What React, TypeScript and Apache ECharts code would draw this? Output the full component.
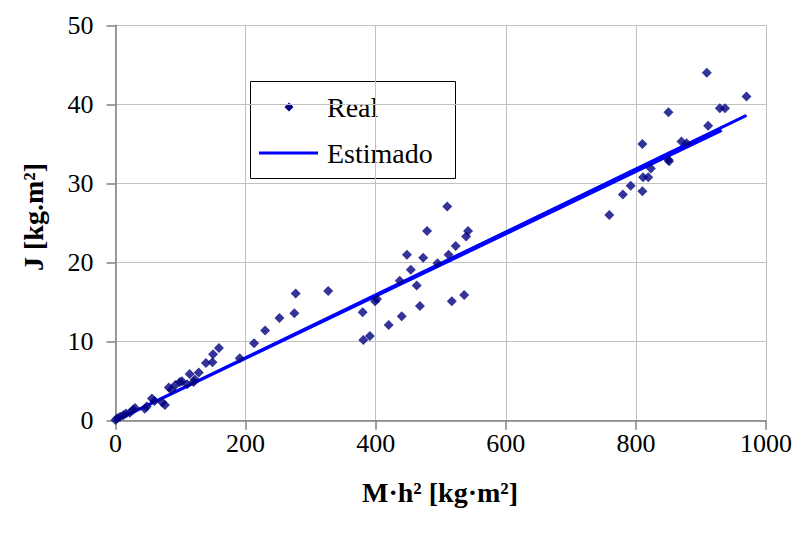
import React, { useEffect, useRef } from "react";
import * as echarts from "echarts";

const realData: [number, number][] = [
  [0, 0.1], [3, 0.3], [7, 0.5], [12, 0.7], [16, 0.9], [22, 1.0], [27, 1.4], [30, 1.6],
  [45, 1.5], [48, 1.8], [56, 2.8], [60, 2.5], [72, 2.3], [76, 2.0], [82, 4.2], [86, 3.9],
  [92, 4.5], [99, 4.9], [102, 5.0], [110, 4.6], [114, 5.9], [120, 4.9], [122, 5.2],
  [128, 6.1], [139, 7.3], [149, 7.4], [150, 8.4], [159, 9.2], [191, 7.9], [213, 9.8],
  [230, 11.4], [252, 13.0], [275, 13.6], [277, 16.1], [327, 16.4],
  [381, 10.2], [391, 10.7], [380, 13.7], [399, 15.1], [402, 15.4], [420, 12.1],
  [437, 17.7], [440, 13.2], [448, 21.0], [454, 19.1], [463, 17.1], [468, 14.5],
  [473, 20.6], [479, 24.0], [495, 19.9], [510, 27.1], [512, 21.0], [517, 15.1],
  [523, 22.1], [536, 15.9], [539, 23.3], [542, 24.0],
  [759, 26.0], [780, 28.6], [792, 29.7], [810, 29.0], [810, 35.0], [811, 30.8],
  [819, 30.8], [823, 31.9], [850, 33.0], [851, 32.8], [850, 39.0], [870, 35.3],
  [878, 35.1], [909, 44.0], [911, 37.3], [929, 39.5], [937, 39.5], [970, 41.0],
];

// two overlapping estimate segments (separated by a gap marker)
const estimatedData: (number | string)[][] = [
  [0, 0.0], [932, 36.7], ["-", "-"], [0, 0.0], [970, 38.6],
];

const xTicks = { min: 0, max: 1000, interval: 200 };
const yTicks = { min: 0, max: 50, interval: 10 };

const legendLabels = ["Real", "Estimado"];
const xTitle = "M·h² [kg·m²]";
const yTitle = "J [kg.m²]";

const FONT = "Liberation Serif";

export default function App() {
  const ref = useRef<HTMLDivElement>(null);
  useEffect(() => {
    if (!ref.current) return;
    const chart = echarts.init(ref.current, undefined, { renderer: "svg" });
    const axisLine = { show: true, lineStyle: { color: "#808080", width: 1.5 } };
    const axisTick = { show: true, inside: false, length: 9, lineStyle: { color: "#808080", width: 1.5 } };
    const splitLine = { show: true, lineStyle: { color: "#c0c0c0", width: 1 } };
    chart.setOption({
      animation: false,
      backgroundColor: "#ffffff",
      textStyle: { fontFamily: FONT },
      grid: { left: 115.5, right: 34, top: 25.3, bottom: 113.3, containLabel: false },
      xAxis: {
        type: "value",
        ...xTicks,
        axisLine,
        axisTick,
        splitLine,
        axisLabel: {
          fontSize: 26,
          fontFamily: FONT,
          color: "#000",
          margin: 10,
          formatter: (v: number) => String(v),
        },
      },
      yAxis: {
        type: "value",
        ...yTicks,
        axisLine,
        axisTick,
        splitLine,
        axisLabel: {
          fontSize: 26,
          fontFamily: FONT,
          color: "#000",
          margin: 22,
          formatter: (v: number) => String(v),
        },
      },
      graphic: [
        {
          type: "text",
          x: 440,
          y: 492,
          z: 100,
          style: {
            text: xTitle,
            fontFamily: FONT,
            fontWeight: "bold",
            fontSize: 28,
            fill: "#000",
            align: "center",
            verticalAlign: "middle",
          },
        },
        {
          type: "text",
          x: 33,
          y: 217,
          rotation: Math.PI / 2,
          z: 100,
          style: {
            text: yTitle,
            fontFamily: FONT,
            fontWeight: "bold",
            fontSize: 28,
            fill: "#000",
            align: "center",
            verticalAlign: "middle",
          },
        },
        {
          type: "group",
          z: 100,
          children: [
            {
              type: "rect",
              shape: { x: 250.5, y: 81.5, width: 205, height: 97 },
              style: { fill: "#ffffff", stroke: "#000000", lineWidth: 1 },
            },
            {
              type: "polygon",
              shape: { points: [[289, 102.5], [293.5, 107], [289, 111.5], [284.5, 107]] },
              style: { fill: "#000080" },
            },
            {
              type: "line",
              shape: { x1: 259, y1: 153, x2: 318, y2: 153 },
              style: { stroke: "#0000ff", lineWidth: 3 },
            },
            {
              type: "text",
              x: 327,
              y: 107,
              style: { text: legendLabels[0], fontFamily: FONT, fontSize: 28, fill: "#000", verticalAlign: "middle" },
            },
            {
              type: "text",
              x: 327,
              y: 153,
              style: { text: legendLabels[1], fontFamily: FONT, fontSize: 28, fill: "#000", verticalAlign: "middle" },
            },
          ],
        },
      ],
      series: [
        {
          name: "Estimado",
          type: "line",
          data: estimatedData,
          symbol: "none",
          connectNulls: false,
          lineStyle: { color: "#0000ff", width: 3 },
          itemStyle: { color: "#0000ff" },
          z: 2,
        },
        {
          name: "Real",
          type: "scatter",
          data: realData,
          symbol: "diamond",
          symbolSize: 10,
          itemStyle: { color: "#000080" },
          z: 3,
        },
      ],
    });
    return () => chart.dispose();
  }, []);
  return (
    <div
      ref={ref}
      style={{ position: "absolute", left: 0, top: 0, width: 800, height: 534 }}
    />
  );
}
